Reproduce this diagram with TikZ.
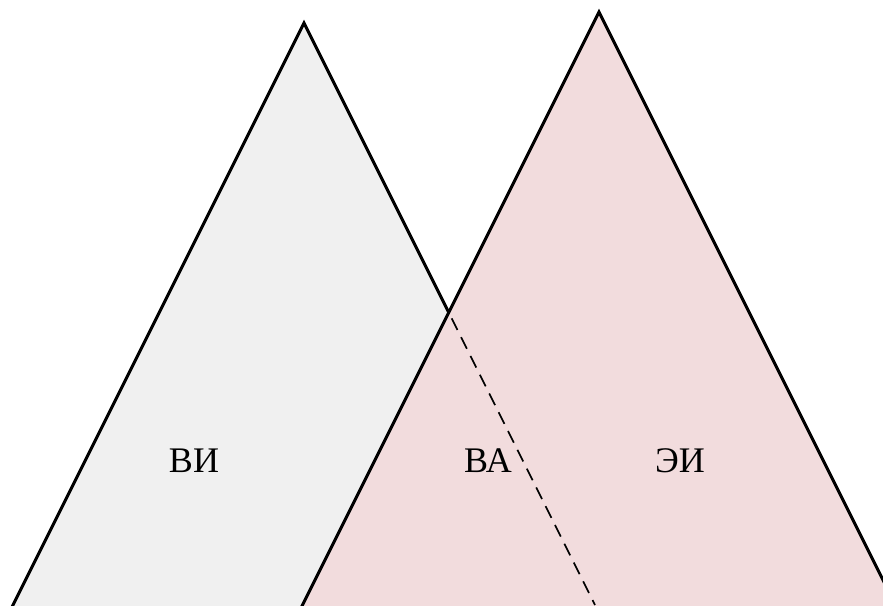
\documentclass[tikz,border=0pt]{standalone}
\usepackage{fontspec}
\setmainfont{Liberation Serif}
\usetikzlibrary{calc}
\definecolor{leftfill}{HTML}{F0F0F0}
\definecolor{rightfill}{HTML}{F2DCDD}
\tikzset{
  tri/.style={draw=black, line width=3pt, line join=miter},
  divider/.style={draw=black, line width=1.6pt, dash pattern=on 13pt off 8pt},
  lbl/.style={font=\fontsize{36}{40}\selectfont, inner sep=0pt, text=black}
}
\begin{document}
\begin{tikzpicture}[x=1pt,y=1pt]
  \useasboundingbox (0,0) rectangle (883,605);
  \clip (0,0) rectangle (883,605);
  % left triangle
  \coordinate (lA) at (304,582);
  \coordinate (lL) at (8,-10);
  \coordinate (lR) at (600,-10);
  % right triangle
  \coordinate (rA) at (599,593);
  \coordinate (rL) at (297.5,-10);
  \coordinate (rR) at (900.5,-10);
  \path[tri, fill=leftfill] (lL) -- (lA) -- (lR) -- cycle;
  \path[tri, fill=rightfill] (rL) -- (rA) -- (rR) -- cycle;
  % dashed continuation of left triangle side
  \coordinate (cross) at (448.75,292.5);
  \coordinate (dEnd) at (595,0);
  \draw[divider] ($(cross)!0.02!(dEnd)$) -- (dEnd);
  % labels
  \node[lbl] (vi) at (194,144) {ВИ};
  \node[lbl] (va) at (488,144) {ВА};
  \node[lbl] (ei) at (680,144) {ЭИ};
\end{tikzpicture}
\end{document}
